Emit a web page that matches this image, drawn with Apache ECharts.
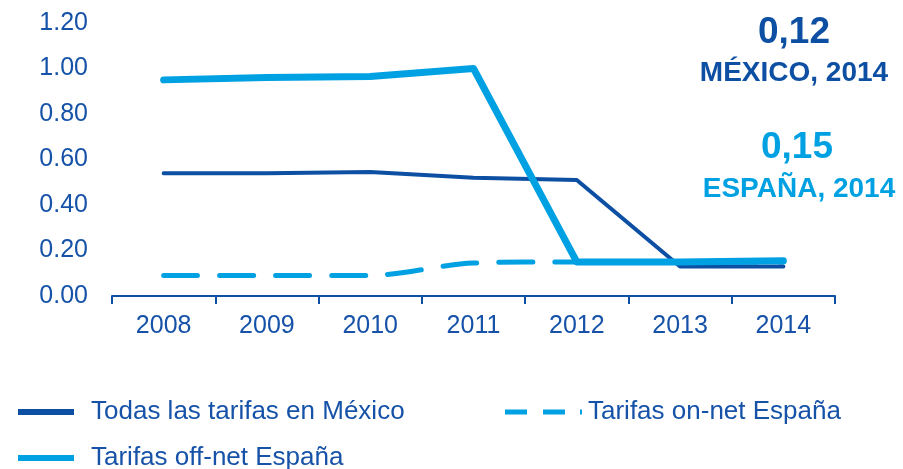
<!DOCTYPE html>
<html><head><meta charset="utf-8">
<script src="https://cdn.jsdelivr.net/npm/echarts@6/dist/echarts.min.js"></script>
<style>html,body{margin:0;padding:0;background:#fff}#c{width:903px;height:469px}</style>
</head><body><div id="c"></div>
<script>
const years = ['2008','2009','2010','2011','2012','2013','2014'];
const mexicoAll = [0.54, 0.54, 0.545, 0.52, 0.51, 0.13, 0.13];
const spainOnNet = [0.09, 0.09, 0.09, 0.145, 0.15, 0.15, 0.15];
const spainOffNet = [0.95, 0.96, 0.965, 1.00, 0.15, 0.15, 0.155];
const seriesNames = ['Todas las tarifas en México', 'Tarifas on-net España', 'Tarifas off-net España'];
const yTicks = { min: 0, max: 1.2, interval: 0.2 };

const DARK = '#0D4FA2', LIGHT = '#00A1E2', TXT = '#1652A8';
const font = 'Liberation Sans, Arial, sans-serif';
const chart = echarts.init(document.getElementById('c'));
function leg(name, left, top, w, h, pad, icon) {
  return {
    data: [name], left: left, top: top, itemWidth: w, itemHeight: h, padding: 0,
    icon: icon, symbolKeepAspect: false,
    textStyle: { color: TXT, fontSize: 26, fontFamily: font, padding: [0, 0, 0, pad] },
    selectedMode: false
  };
}
chart.setOption({
  animation: false,
  grid: { left: 112, right: 68, top: 23, bottom: 173 },
  legend: [
    leg(seriesNames[0], 18, 399, 56, 6, 12, 'rect'),
    leg(seriesNames[1], 505, 399, 77, 5, 1, 'path://M0,0H22V5H0Z M38,0H60V5H38Z M75,0H77V5H75Z'),
    leg(seriesNames[2], 18, 445, 56, 6, 12, 'rect')
  ],
  xAxis: {
    type: 'category', data: years, boundaryGap: true,
    axisLine: { lineStyle: { color: DARK, width: 2 } },
    axisTick: { show: true, length: 8, lineStyle: { color: DARK, width: 2 } },
    axisLabel: { color: TXT, fontSize: 25, fontFamily: font, margin: 18 }
  },
  yAxis: {
    type: 'value', min: yTicks.min, max: yTicks.max, interval: yTicks.interval,
    axisLine: { show: false }, axisTick: { show: false }, splitLine: { show: false },
    axisLabel: { color: TXT, fontSize: 25, fontFamily: font, margin: 24, formatter: v => v.toFixed(2) }
  },
  series: [
    { name: seriesNames[0], type: 'line', data: mexicoAll, symbol: 'none',
      lineStyle: { color: DARK, width: 4, cap: 'round' }, itemStyle: { color: DARK }, z: 2 },
    { name: seriesNames[1], type: 'line', data: spainOnNet, symbol: 'none', smooth: 0.3,
      lineStyle: { color: LIGHT, width: 5, type: [34, 22], cap: 'round' }, itemStyle: { color: LIGHT }, z: 1 },
    { name: seriesNames[2], type: 'line', data: spainOffNet, symbol: 'none',
      lineStyle: { color: LIGHT, width: 7, cap: 'round', join: 'round' }, itemStyle: { color: LIGHT }, z: 3 }
  ],
  graphic: [
    { type: 'text', x: 794, y: 33, style: { text: '0,12', fill: DARK, font: 'bold 37px ' + font, align: 'center', verticalAlign: 'middle' } },
    { type: 'text', x: 794, y: 73, style: { text: 'MÉXICO, 2014', fill: DARK, font: 'bold 28px ' + font, align: 'center', verticalAlign: 'middle' } },
    { type: 'text', x: 797, y: 148, style: { text: '0,15', fill: LIGHT, font: 'bold 37px ' + font, align: 'center', verticalAlign: 'middle' } },
    { type: 'text', x: 799, y: 189, style: { text: 'ESPAÑA, 2014', fill: LIGHT, font: 'bold 28px ' + font, align: 'center', verticalAlign: 'middle' } }
  ]
});
</script></body></html>
